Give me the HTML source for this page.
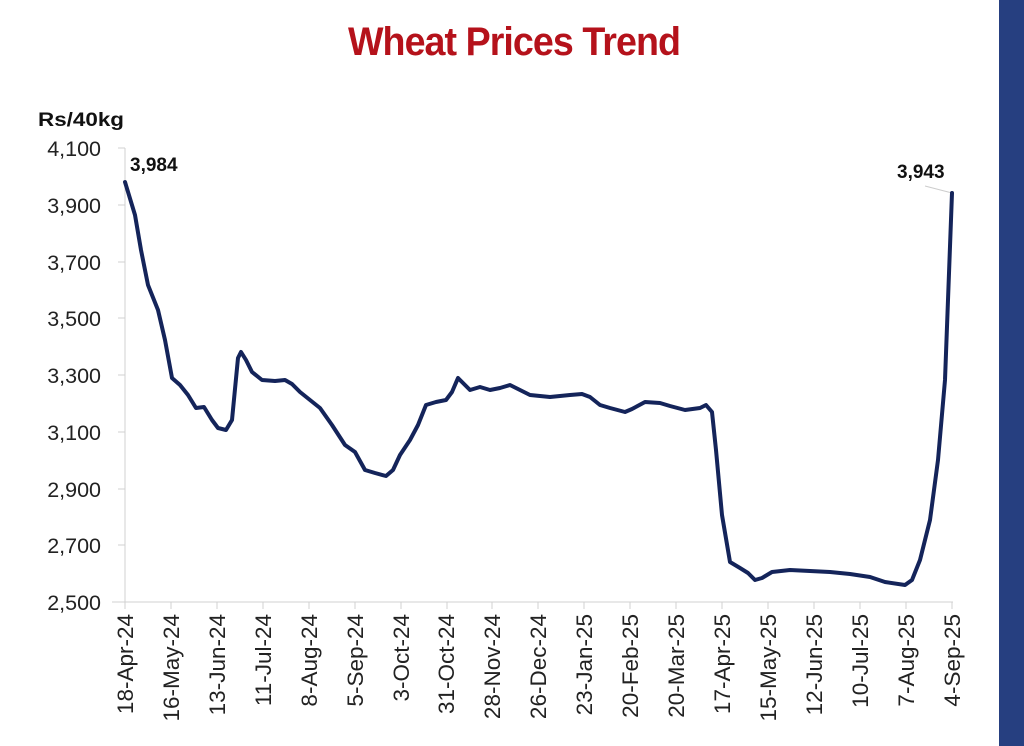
<!DOCTYPE html>
<html><head><meta charset="utf-8"><style>
html,body{margin:0;padding:0;background:#fff;}
svg{display:block;}
text{font-family:"Liberation Sans",sans-serif;}
</style></head><body>
<svg width="1024" height="746" viewBox="0 0 1024 746" xmlns="http://www.w3.org/2000/svg">
<rect x="0" y="0" width="1024" height="746" fill="#fff"/>
<rect x="999" y="0" width="25" height="746" fill="#263f80"/>
<text x="514" y="55" text-anchor="middle" font-size="40" font-weight="bold" fill="#b5121b" textLength="332" lengthAdjust="spacingAndGlyphs" letter-spacing="-1">Wheat Prices Trend</text>
<text x="38" y="126" font-size="19" font-weight="bold" fill="#111" textLength="86" lengthAdjust="spacingAndGlyphs">Rs/40kg</text>
<g font-size="21.5" fill="#222" text-anchor="end">
<text x="101" y="156">4,100</text>
<text x="101" y="213">3,900</text>
<text x="101" y="270">3,700</text>
<text x="101" y="326">3,500</text>
<text x="101" y="383">3,300</text>
<text x="101" y="440">3,100</text>
<text x="101" y="497">2,900</text>
<text x="101" y="553">2,700</text>
<text x="101" y="610">2,500</text>
</g>
<g stroke="#d0d0d0" stroke-width="1">
<line x1="125" y1="148" x2="125" y2="602"/>
<line x1="118" y1="148" x2="125" y2="148"/>
<line x1="118" y1="205" x2="125" y2="205"/>
<line x1="118" y1="262" x2="125" y2="262"/>
<line x1="118" y1="318" x2="125" y2="318"/>
<line x1="118" y1="375" x2="125" y2="375"/>
<line x1="118" y1="432" x2="125" y2="432"/>
<line x1="118" y1="489" x2="125" y2="489"/>
<line x1="118" y1="545" x2="125" y2="545"/>
<line x1="112" y1="602" x2="953" y2="602"/>
</g>
<g font-size="22.5" fill="#222" text-anchor="end">
<text transform="translate(133,614) rotate(-90)">18-Apr-24</text>
<text transform="translate(179,614) rotate(-90)">16-May-24</text>
<text transform="translate(225,614) rotate(-90)">13-Jun-24</text>
<text transform="translate(271,614) rotate(-90)">11-Jul-24</text>
<text transform="translate(317,614) rotate(-90)">8-Aug-24</text>
<text transform="translate(363,614) rotate(-90)">5-Sep-24</text>
<text transform="translate(409,614) rotate(-90)">3-Oct-24</text>
<text transform="translate(454,614) rotate(-90)">31-Oct-24</text>
<text transform="translate(500,614) rotate(-90)">28-Nov-24</text>
<text transform="translate(546,614) rotate(-90)">26-Dec-24</text>
<text transform="translate(592,614) rotate(-90)">23-Jan-25</text>
<text transform="translate(638,614) rotate(-90)">20-Feb-25</text>
<text transform="translate(684,614) rotate(-90)">20-Mar-25</text>
<text transform="translate(730,614) rotate(-90)">17-Apr-25</text>
<text transform="translate(776,614) rotate(-90)">15-May-25</text>
<text transform="translate(822,614) rotate(-90)">12-Jun-25</text>
<text transform="translate(868,614) rotate(-90)">10-Jul-25</text>
<text transform="translate(914,614) rotate(-90)">7-Aug-25</text>
<text transform="translate(960,614) rotate(-90)">4-Sep-25</text>
</g>
<g stroke="#d0d0d0" stroke-width="1">
<line x1="125" y1="602" x2="125" y2="609"/><line x1="171" y1="602" x2="171" y2="609"/><line x1="217" y1="602" x2="217" y2="609"/><line x1="263" y1="602" x2="263" y2="609"/><line x1="309" y1="602" x2="309" y2="609"/><line x1="355" y1="602" x2="355" y2="609"/><line x1="401" y1="602" x2="401" y2="609"/><line x1="447" y1="602" x2="447" y2="609"/><line x1="492" y1="602" x2="492" y2="609"/><line x1="538" y1="602" x2="538" y2="609"/><line x1="584" y1="602" x2="584" y2="609"/><line x1="630" y1="602" x2="630" y2="609"/><line x1="676" y1="602" x2="676" y2="609"/><line x1="722" y1="602" x2="722" y2="609"/><line x1="768" y1="602" x2="768" y2="609"/><line x1="814" y1="602" x2="814" y2="609"/><line x1="860" y1="602" x2="860" y2="609"/><line x1="906" y1="602" x2="906" y2="609"/><line x1="952" y1="602" x2="952" y2="609"/>
</g>
<line x1="925" y1="186" x2="952" y2="193" stroke="#ccc" stroke-width="1"/>
<polyline fill="none" stroke="#14245a" stroke-width="4" stroke-linejoin="round" stroke-linecap="round" points="125,182 135,215 141,250 148,285 158,310 165,340 172,378 180,385 188,395 196,408 204,407 212,420 218,428 226,430 232,420 238,358 241,352 246,360 252,372 262,380 275,381 285,380 292,384 300,392 310,400 320,408 332,425 345,445 355,452 365,470 375,473 386,476 393,470 400,455 410,440 418,425 426,405 436,402 446,400 452,392 458,378 463,383 470,390 480,387 490,390 500,388 510,385 520,390 530,395 550,397 570,395 582,394 590,397 600,405 610,408 625,412 632,409 645,402 660,403 670,406 685,410 700,408 706,405 712,412 716,450 722,515 730,562 740,568 748,573 755,580 762,578 772,572 790,570 830,572 850,574 870,577 885,582 905,585 912,580 920,560 930,520 938,460 945,380 952,193"/>
<text x="130" y="171" font-size="19" font-weight="bold" fill="#111">3,984</text>
<text x="897" y="178" font-size="19" font-weight="bold" fill="#111">3,943</text>
</svg>
</body></html>
